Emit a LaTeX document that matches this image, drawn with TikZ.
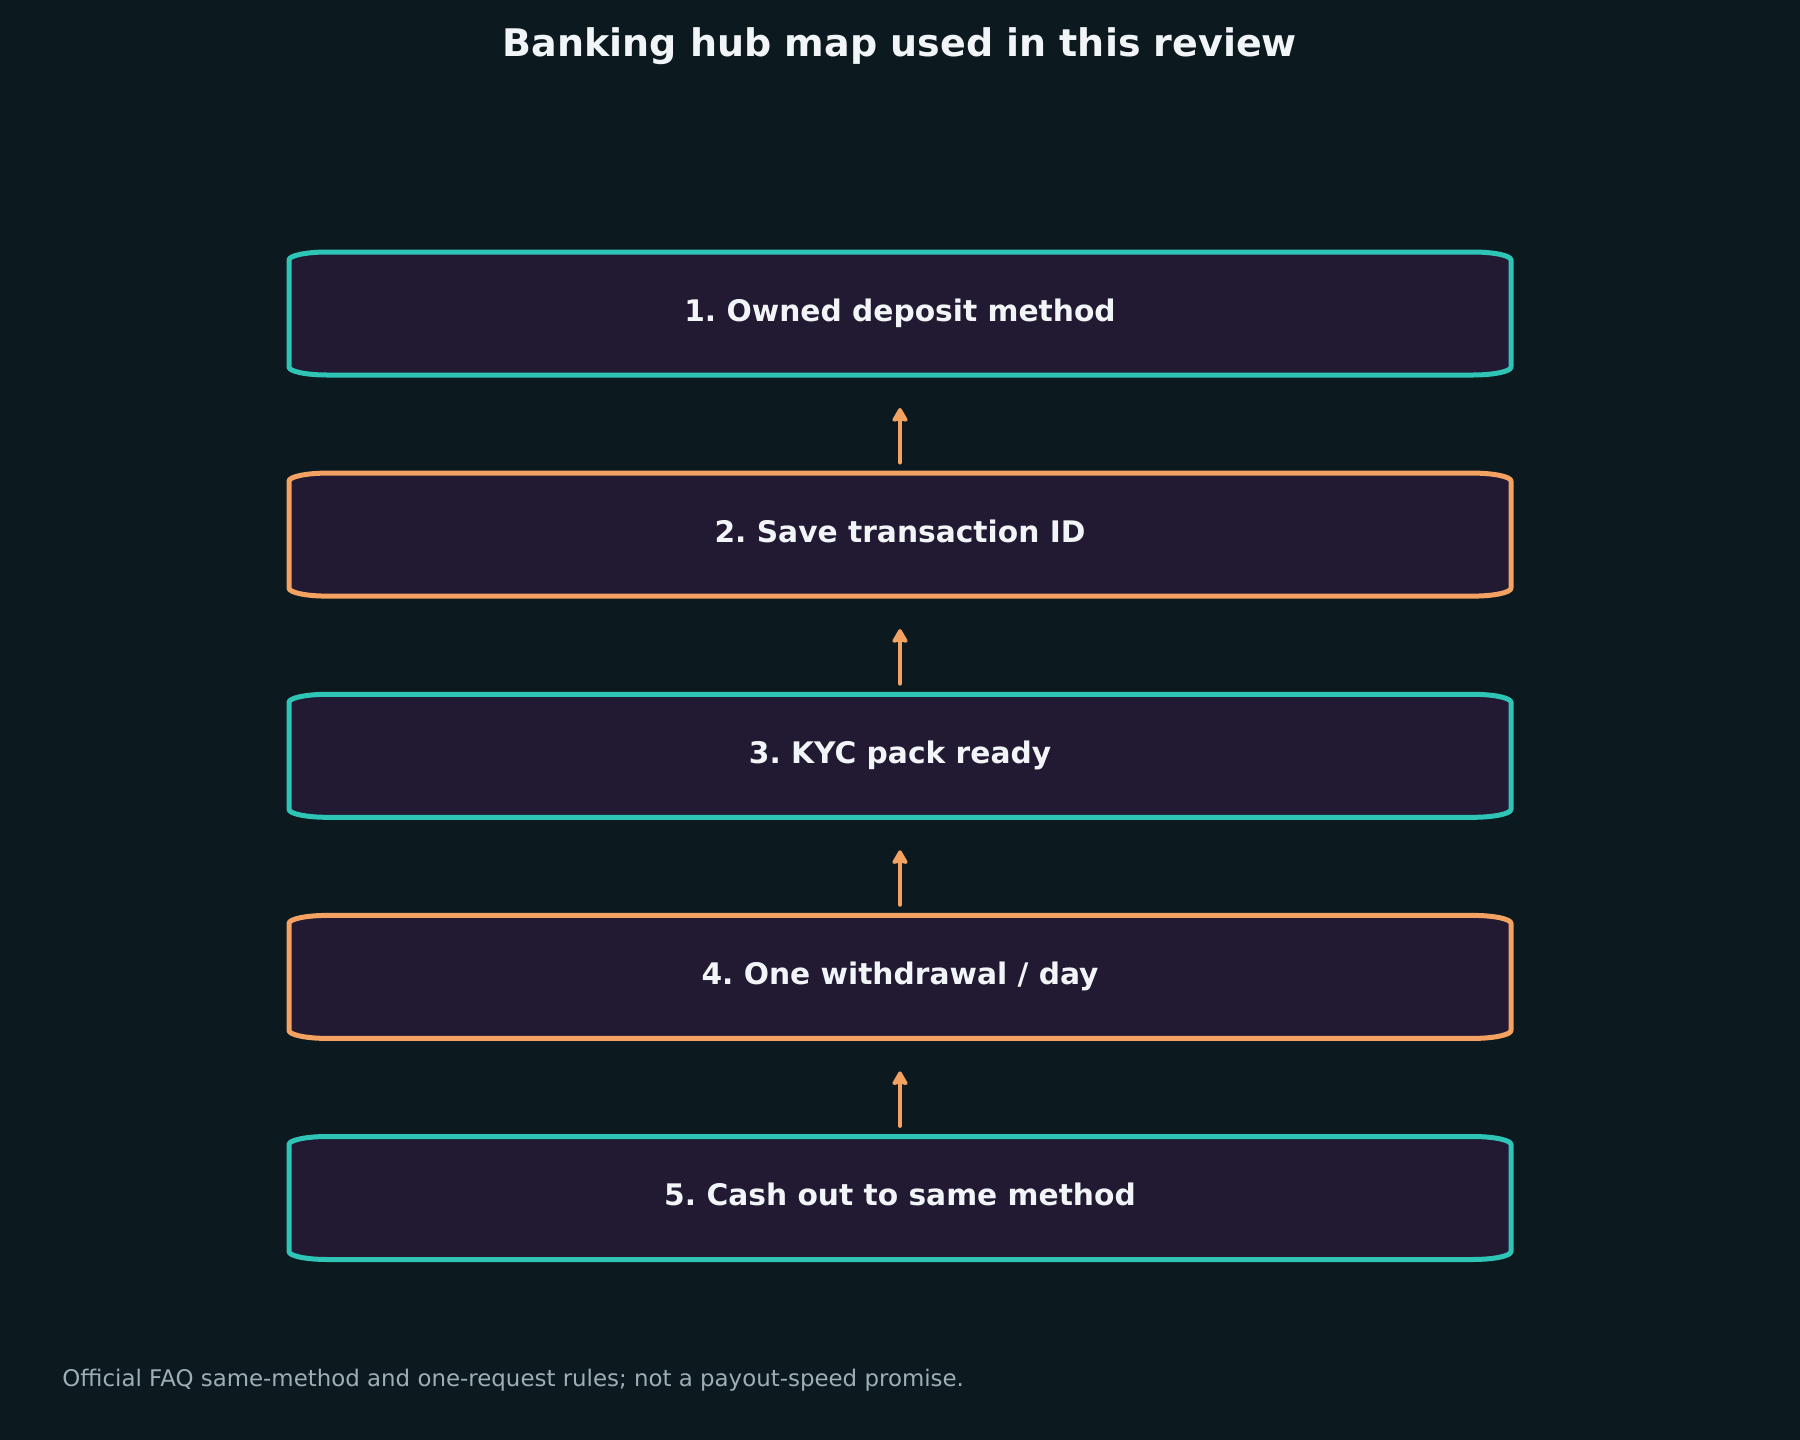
\documentclass[tikz,border=0pt]{standalone}
\usepackage{fontspec}
\setmainfont{DejaVu Sans}
\usetikzlibrary{calc,arrows.meta}
\frenchspacing
\definecolor{bg}{RGB}{12,26,31}
\definecolor{boxfill}{RGB}{34,26,51}
\definecolor{teal}{RGB}{46,196,182}
\definecolor{orng}{RGB}{244,162,97}
\definecolor{titlec}{RGB}{242,245,248}
\definecolor{footc}{RGB}{158,174,180}
\tikzset{
  stepbox/.style={rectangle, inner sep=0pt, outer sep=0pt, minimum width=611pt, minimum height=61.5pt},
  steplabel/.style={inner sep=0pt, font=\bfseries\fontsize{14.85}{18}\selectfont, text=titlec,
    text height=0.92em, text depth=0.17em},
  arr/.style={draw=orng, line width=2.4pt, line cap=round, -{Stealth[length=8pt,width=9pt,inset=1pt,round]}},
  titletext/.style={font=\bfseries\fontsize{19}{23}\selectfont, text=titlec},
  foottext/.style={font=\fontsize{11.45}{14}\selectfont, text=footc, anchor=west, inner sep=0pt},
}
% elliptic-corner outline around a node: #1 name, #2 colour
\newcommand\eboxdraw[2]{%
  \draw[#2, line width=2.5pt, fill=boxfill, line join=round]
    ($(#1.north west)+(38,0)$) -- ($(#1.north east)+(-38,0)$)
    .. controls +(21,0) and +(0,-4.4) .. ($(#1.north east)+(0,8)$)
    -- ($(#1.south east)+(0,-8)$)
    .. controls +(0,4.4) and +(21,0) .. ($(#1.south east)+(-38,0)$)
    -- ($(#1.south west)+(38,0)$)
    .. controls +(-21,0) and +(0,4.4) .. ($(#1.south west)+(0,-8)$)
    -- ($(#1.north west)+(0,8)$)
    .. controls +(0,-4.4) and +(-21,0) .. cycle;
}
\begin{document}
\begin{tikzpicture}[x=0.5pt,y=-0.5pt]
\fill[bg] (0,0) rectangle (1800,1440);
\useasboundingbox (0,0) rectangle (1800,1440);
\node[titletext] (title) at (900,46) {Banking hub map used in this review};
\node[stepbox] (b1) at (900,313.5) {};
\node[stepbox] (b2) at (900,534.6) {};
\node[stepbox] (b3) at (900,755.8) {};
\node[stepbox] (b4) at (900,976.9) {};
\node[stepbox] (b5) at (900,1198) {};
\eboxdraw{b1}{teal}
\eboxdraw{b2}{orng}
\eboxdraw{b3}{teal}
\eboxdraw{b4}{orng}
\eboxdraw{b5}{teal}
\node[steplabel] (l1) at (b1) {1. Owned deposit method};
\node[steplabel] (l2) at (b2) {2. Save transaction ID};
\node[steplabel] (l3) at (b3) {3. KYC pack ready};
\node[steplabel] (l4) at (b4) {4. One withdrawal / day};
\node[steplabel] (l5) at (b5) {5. Cash out to same method};
\draw[arr] ([yshift=5.5pt]b2.north) -- ([yshift=-16.5pt]b1.south);
\draw[arr] ([yshift=5.5pt]b3.north) -- ([yshift=-16.5pt]b2.south);
\draw[arr] ([yshift=5.5pt]b4.north) -- ([yshift=-16.5pt]b3.south);
\draw[arr] ([yshift=5.5pt]b5.north) -- ([yshift=-16.5pt]b4.south);
\node[foottext] (foot) at (62,1380) {Official FAQ same-method and one-request rules; not a payout-speed promise.};
\end{tikzpicture}
\end{document}
